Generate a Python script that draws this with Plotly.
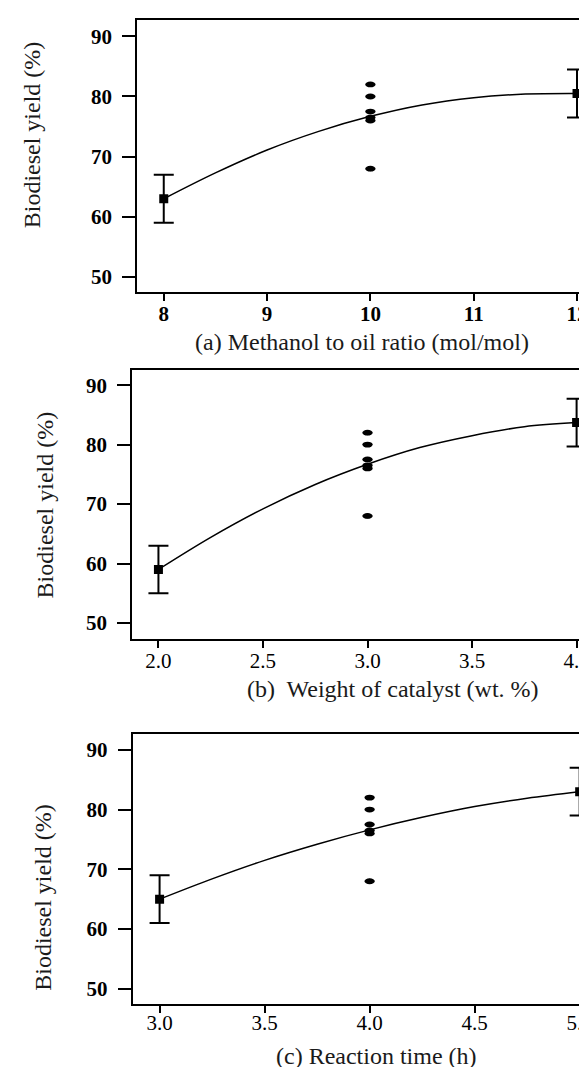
import plotly.graph_objects as go

W, H = 587, 1067

# ---------------- data ----------------
center_yields = [82, 80, 77.5, 76.5, 76, 68]

methanol_ticks = [8, 9, 10, 11, 12]
methanol_tick_text = ["8", "9", "10", "11", "12"]
methanol_center_x = 10
methanol_end_x = [8, 12]
methanol_end_y = [63, 80.5]
methanol_err = [4, 4]
methanol_curve_x = [8, 8.5, 9, 9.5, 10, 10.5, 11, 11.5, 12]
methanol_curve_y = [63, 67.3, 71.1, 74.2, 76.7, 78.6, 79.8, 80.4, 80.5]

catalyst_ticks = [2.0, 2.5, 3.0, 3.5, 4.0]
catalyst_tick_text = ["2.0", "2.5", "3.0", "3.5", "4.0"]
catalyst_center_x = 3.0
catalyst_end_x = [2.0, 4.0]
catalyst_end_y = [59, 83.7]
catalyst_err = [4, 4]
catalyst_curve_x = [2.0, 2.25, 2.5, 2.75, 3.0, 3.25, 3.5, 3.75, 4.0]
catalyst_curve_y = [59, 64.4, 69.2, 73.3, 76.7, 79.5, 81.5, 83.0, 83.7]

time_ticks = [3.0, 3.5, 4.0, 4.5, 5.0]
time_tick_text = ["3.0", "3.5", "4.0", "4.5", "5.0"]
time_center_x = 4.0
time_end_x = [3.0, 5.0]
time_end_y = [65, 83]
time_err = [4, 4]
time_curve_x = [3.0, 3.25, 3.5, 3.75, 4.0, 4.25, 4.5, 4.75, 5.0]
time_curve_y = [65, 68.4, 71.5, 74.2, 76.6, 78.7, 80.5, 81.9, 83.0]

y_ticks = [50, 60, 70, 80, 90]
y_title = "Biodiesel yield (%)"
x_titles = ["(a) Methanol to oil ratio (mol/mol)",
            "(b)\u00a0 Weight of catalyst (wt. %)",
            "(c) Reaction time (h)"]

# ---------------- layout helpers ----------------
def px_x(p):
    return p / W

def px_y(p):
    return 1 - p / H

panels = [
    dict(ticks=methanol_ticks, ttext=methanol_tick_text, cx=methanol_center_x,
         ex=methanol_end_x, ey=methanol_end_y, err=methanol_err,
         lx=methanol_curve_x, ly=methanol_curve_y,
         xrange=[7.743, 12.174], yrange=[47.46, 92.66],
         left=129.2, top=12.3, bottom=284.3, xbold=True, xstand=-6,
         ytitle=(24.3, 127), xtitle=(353.6, 334)),
    dict(ticks=catalyst_ticks, ttext=catalyst_tick_text, cx=catalyst_center_x,
         ex=catalyst_end_x, ey=catalyst_end_y, err=catalyst_err,
         lx=catalyst_curve_x, ly=catalyst_curve_y,
         xrange=[1.875, 4.088], yrange=[47.3, 92.5],
         left=124.3, top=362.3, bottom=631, xbold=False, xstand=-5,
         ytitle=(37.4, 497), xtitle=(385, 681)),
    dict(ticks=time_ticks, ttext=time_tick_text, cx=time_center_x,
         ex=time_end_x, ey=time_end_y, err=time_err,
         lx=time_curve_x, ly=time_curve_y,
         xrange=[2.872, 5.073], yrange=[47.5, 92.7],
         left=124.7, top=725.7, bottom=995.7, xbold=False, xstand=-8,
         ytitle=(34.8, 889), xtitle=(368, 1048)),
]

fig = go.Figure()
layout = dict(width=W, height=H, margin=dict(l=0, r=0, t=0, b=0),
              paper_bgcolor="white", plot_bgcolor="white", showlegend=False)
annotations = []
shapes = []

FAM = "Liberation Serif, Times New Roman, serif"
ytick_font = dict(family=FAM, size=21, color="black", weight="bold")
title_font = dict(family=FAM, size=24, color="#1a1a1a")

for i, p in enumerate(panels, start=1):
    xa = "x" if i == 1 else f"x{i}"
    ya = "y" if i == 1 else f"y{i}"
    # fitted response curve
    fig.add_trace(go.Scatter(x=p["lx"], y=p["ly"], mode="lines",
                             line=dict(color="black", width=1.5, shape="spline"),
                             xaxis=xa, yaxis=ya, hoverinfo="skip"))
    # centre-point design runs (core marker + elliptical dot anchored at the data)
    fig.add_trace(go.Scatter(x=[p["cx"]] * len(center_yields), y=center_yields,
                             mode="markers",
                             marker=dict(symbol="circle", size=5, color="black"),
                             xaxis=xa, yaxis=ya))
    for yv in center_yields:
        shapes.append(dict(type="circle", xref=xa, yref=ya,
                           xsizemode="pixel", xanchor=p["cx"], x0=-5.2, x1=5.2,
                           ysizemode="pixel", yanchor=yv, y0=-2.9, y1=2.9,
                           fillcolor="black", line=dict(width=0), layer="above"))
    # end-level predictions with error bars
    fig.add_trace(go.Scatter(x=p["ex"], y=p["ey"], mode="markers",
                             marker=dict(symbol="square", size=9, color="black"),
                             error_y=dict(type="data", array=p["err"], visible=True,
                                          color="black", thickness=2, width=10),
                             xaxis=xa, yaxis=ya))
    xkey = "xaxis" if i == 1 else f"xaxis{i}"
    ykey = "yaxis" if i == 1 else f"yaxis{i}"
    xtick_font = dict(family=FAM, size=21, color="black",
                      weight="bold" if p["xbold"] else "normal")
    layout[xkey] = dict(domain=[px_x(p["left"]), 1], range=p["xrange"],
                        anchor=ya, showline=True, linecolor="black", linewidth=2,
                        mirror=True, showgrid=False, zeroline=False,
                        ticks="outside", ticklen=7, tickwidth=2, tickcolor="black",
                        tickvals=p["ticks"], ticktext=p["ttext"],
                        tickfont=xtick_font, ticklabelstandoff=p["xstand"])
    layout[ykey] = dict(domain=[px_y(p["bottom"]), px_y(p["top"])], range=p["yrange"],
                        anchor=xa, showline=True, linecolor="black", linewidth=2,
                        mirror=False, showgrid=False, zeroline=False,
                        ticks="outside", ticklen=13, tickwidth=2, tickcolor="black",
                        tickvals=y_ticks, tickfont=ytick_font, ticklabelstandoff=6)
    annotations.append(dict(text=y_title, textangle=-90, xref="paper", yref="paper",
                            x=px_x(p["ytitle"][0]), y=px_y(p["ytitle"][1]),
                            xanchor="center", yanchor="middle", showarrow=False,
                            font=title_font))
    annotations.append(dict(text=x_titles[i - 1], xref="paper", yref="paper",
                            x=px_x(p["xtitle"][0]), y=px_y(p["xtitle"][1]),
                            xanchor="center", yanchor="middle", showarrow=False,
                            font=title_font))

layout["annotations"] = annotations
layout["shapes"] = shapes
fig.update_layout(**layout)
fig.write_html("out.html")
